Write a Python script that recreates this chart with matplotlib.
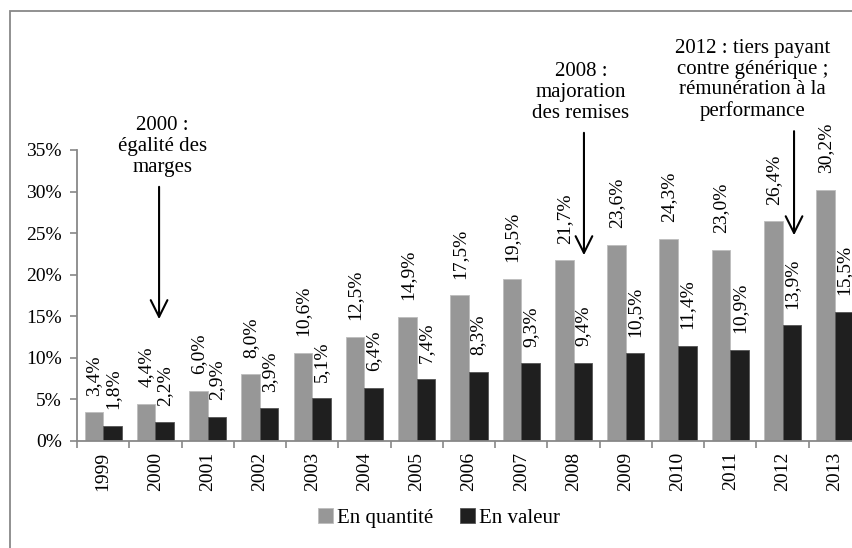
import numpy as np
import matplotlib
matplotlib.use('Agg')
import matplotlib.pyplot as plt
from matplotlib.patches import Rectangle

# data (% of reimbursed drugs)
years = ['1999', '2000', '2001', '2002', '2003', '2004', '2005', '2006',
         '2007', '2008', '2009', '2010', '2011', '2012', '2013']
en_quantite = [3.4, 4.4, 6.0, 8.0, 10.6, 12.5, 14.9, 17.5, 19.5, 21.7,
               23.6, 24.3, 23.0, 26.4, 30.2]
en_valeur = [1.8, 2.2, 2.9, 3.9, 5.1, 6.4, 7.4, 8.3, 9.3, 9.4,
             10.5, 11.4, 10.9, 13.9, 15.5]
y_ticks = [0, 5, 10, 15, 20, 25, 30, 35]

# annotations: text, text x, arrow x (category index), arrow start / end (%)
notes = [
    ('2000 :\négalité des\nmarges', 1.13, 1.07, 30.9, 14.3),
    ('2008 :\nmajoration\ndes remises', 9.14, 9.2, 37.4, 22.0),
    ('2012 : tiers payant\ncontre générique ;\nrémunération à la\nperformance', 12.43, 13.22, 37.6, 24.4),
]

plt.rcParams['font.family'] = ['Liberation Serif', 'DejaVu Serif']
fs = 14

fig = plt.figure(figsize=(8.53, 5.48), dpi=100)
ax = fig.add_axes([0.0903, 0.1958, 0.919, 0.5305])

x = np.arange(len(years))
w = 0.355
gray = '#979797'
dark = '#1f1f1f'
b1 = ax.bar(x - w/2, en_quantite, w, color=gray, edgecolor='#bdbdbd', linewidth=0.6, label='En quantité')
b2 = ax.bar(x + w/2, en_valeur, w, color=dark, edgecolor='#555555', linewidth=0.6, label='En valeur')

for bars, vals in [(b1, en_quantite), (b2, en_valeur)]:
    for r, v in zip(bars, vals):
        ax.annotate(('%.1f%%' % v).replace('.', ','),
                    (r.get_x() + r.get_width()/2, v),
                    xytext=(0, 12), textcoords='offset points',
                    rotation=90, ha='center', va='bottom', fontsize=fs,
                    annotation_clip=False)

ax.set_xlim(-0.5, len(years) - 0.5)
ax.set_ylim(0, 35)
ax.set_yticks(y_ticks)
ax.set_yticklabels(['%d%%' % t for t in y_ticks], fontsize=fs)
ax.set_xticks(x)
ax.set_xticklabels(years, rotation=90, fontsize=fs)
ax.set_xticks(np.arange(len(years) + 1) - 0.5, minor=True)
ax.tick_params(axis='x', which='major', length=0, pad=8)
ax.tick_params(axis='x', which='minor', length=5, color='#888888', width=1.2)
ax.tick_params(axis='y', length=5, color='#888888', width=1.2, pad=6)

for s in ['top', 'right']:
    ax.spines[s].set_visible(False)
for s in ['left', 'bottom']:
    ax.spines[s].set_color('#888888')
    ax.spines[s].set_linewidth(1.3)

for txt, tx, ax_x, y0, y1 in notes:
    ax.annotate('', xy=(ax_x, y1), xytext=(ax_x, y0),
                arrowprops=dict(arrowstyle='->', color='black', lw=1.5,
                                mutation_scale=30),
                annotation_clip=False)
    ax.text(tx, y0 + 0.9, txt, ha='center', va='bottom',
            fontsize=15, linespacing=1.12, clip_on=False)

fig.legend(handles=[b1, b2], loc='center', bbox_to_anchor=(0.515, 0.055),
           ncol=2, frameon=False, fontsize=15, handlelength=0.7,
           handleheight=0.7, handletextpad=0.2, columnspacing=1.3)

# outer chart frame (cut off on the right and bottom)
fig.patches.append(Rectangle((10/853, -0.1), 2, 1.08, transform=fig.transFigure,
                             fill=False, edgecolor='#888888', lw=1.3))

fig.savefig('out.png', dpi=100)
